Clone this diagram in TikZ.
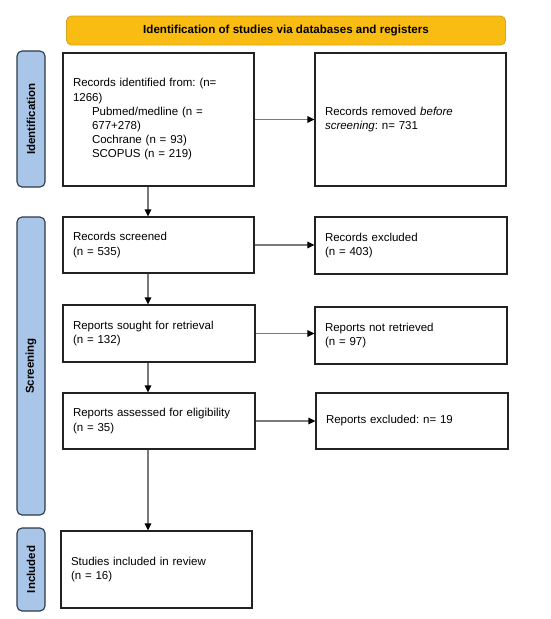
\documentclass[tikz,border=0pt]{standalone}
\usepackage{fontspec}
\setmainfont{Liberation Sans}
\usetikzlibrary{arrows.meta,calc}
\definecolor{hdrfill}{HTML}{F8BC12}
\definecolor{hdrdraw}{HTML}{D9A520}
\definecolor{lblfill}{HTML}{A9C6E8}
\definecolor{lbldraw}{HTML}{2B3A4A}
\definecolor{boxdraw}{HTML}{222222}
\definecolor{arrgray}{HTML}{7A7A7A}
\frenchspacing
\begin{document}
\begin{tikzpicture}[x=1pt,y=-1pt,
  txt/.style={font=\fontsize{11.5}{14.2}\selectfont},
  box/.style={draw=boxdraw,line width=1.1pt,fill=white,rectangle,inner xsep=10pt,inner ysep=0pt,align=left,txt},
  hdr/.style={draw=hdrdraw,line width=0.9pt,fill=hdrfill,rounded corners=5pt,minimum width=439pt,minimum height=29pt,font=\fontsize{11.6}{13}\selectfont\bfseries},
  lbl/.style={draw=lbldraw,line width=1.1pt,fill=lblfill,rounded corners=5pt,minimum height=28pt,inner sep=0pt,font=\fontsize{11.5}{13}\selectfont\bfseries,rotate=90},
  arr/.style={draw=arrgray,line width=1.1pt,-{Triangle[length=7pt,width=6.5pt,color=black]}}
]
\useasboundingbox (0,0) rectangle (550,619);
\node[hdr] (hdr) at (286,30.5) {Identification of studies via databases and registers};
\node[lbl,minimum width=136pt] (lid) at (31,119) {Identification};
\node[lbl,minimum width=298pt] (lsc) at (31,366) {Screening};
\node[lbl,minimum width=83pt] (lin) at (31,569.5) {Included};

\node[box,text width=171pt,minimum height=133pt] (b1) at (158.5,119.5) {Records identified from: (n=\\1266)\\
\hspace*{19pt}Pubmed/medline (n =\\\hspace*{19pt}677+278)\\\hspace*{19pt}Cochrane (n = 93)\\\hspace*{19pt}SCOPUS (n = 219)};
\node[box,text width=171pt,minimum height=133pt] (r1) at (410.5,119.5) {Records removed \textit{before}\\\textit{screening}: n= 731};
\node[box,text width=171pt,minimum height=56pt] (b2) at (158.5,245) {Records screened\\(n = 535)};
\node[box,text width=172pt,minimum height=57pt] (r2) at (411,245.5) {Records excluded\\(n = 403)};
\node[box,text width=172pt,minimum height=57pt] (b3) at (159,333.5) {Reports sought for retrieval\\(n = 132)};
\node[box,text width=172pt,minimum height=57pt] (r3) at (411,335.5) {Reports not retrieved\\(n = 97)};
\node[box,text width=172pt,minimum height=56pt] (b4) at (159,421) {Reports assessed for eligibility\\(n = 35)};
\node[box,text width=172pt,minimum height=56pt] (r4) at (412,421) {Reports excluded: n= 19};
\node[box,text width=171pt,minimum height=77pt] (b5) at (156.5,569.5) {Studies included in review\\(n = 16)};

\draw[arr] (b1.east) -- (r1.west);
\draw[arr] (b2.east) -- (b2.east -| r2.west);
\draw[arr] (b3.east) -- (b3.east -| r3.west);
\draw[arr] (b4.east) -- (b4.east -| r4.west);
\draw[arr] ([xshift=-10.5pt]b1.south) -- ([xshift=-10.5pt]b1.south |- b2.north);
\draw[arr] ([xshift=-10.5pt]b2.south) -- ([xshift=-10.5pt]b2.south |- b3.north);
\draw[arr] ([xshift=-11pt]b3.south) -- ([xshift=-11pt]b3.south |- b4.north);
\draw[arr] ([xshift=-11pt]b4.south) -- ([xshift=-11pt]b4.south |- b5.north);
\end{tikzpicture}
\end{document}
